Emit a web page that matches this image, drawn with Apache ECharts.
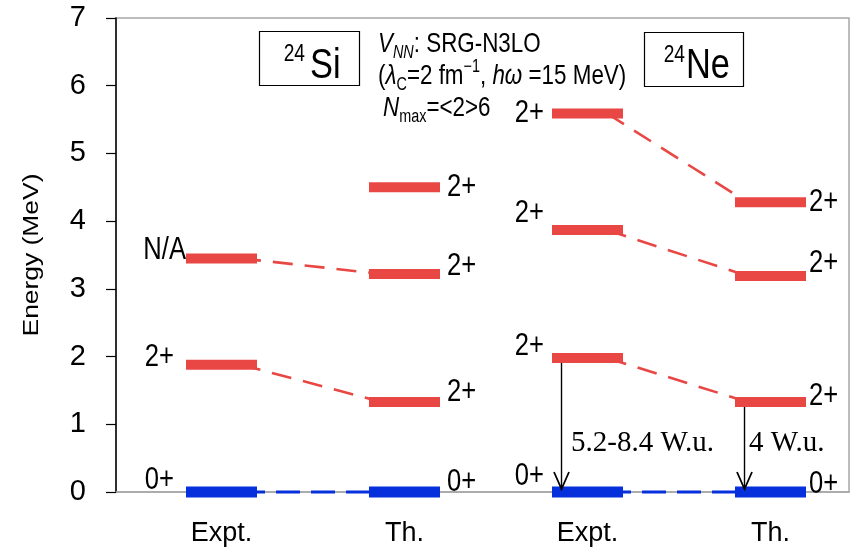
<!DOCTYPE html>
<html>
<head>
<meta charset="utf-8">
<script src="https://cdn.jsdelivr.net/npm/echarts@6/dist/echarts.min.js"></script>
<style>
html,body{margin:0;padding:0;background:#fff;}
#chart{width:853px;height:555px;}
</style>
</head>
<body>
<div id="chart"></div>
<script>
// ---------------- data ----------------
const categories = ['Expt.', 'Th.', 'Expt.', 'Th.'];
const yTicks = [0, 1, 2, 3, 4, 5, 6, 7];
// level energies (MeV) per column
const siExpt = [0, 1.88, 3.45];
const siTh   = [0, 1.33, 3.22, 4.50];
const neExpt = [0, 1.98, 3.87, 5.59];
const neTh   = [0, 1.33, 3.19, 4.28];
// level labels
const siExptLabels = ['0+', '2+', 'N/A'];
const siThLabels   = ['0+', '2+', '2+', '2+'];
const neExptLabels = ['0+', '2+', '2+', '2+'];
const neThLabels   = ['0+', '2+', '2+', '2+'];
// connected levels (Expt index -> Th index)
const siLinks = [[0, 0], [1, 1], [2, 2]];
const neLinks = [[0, 0], [1, 1], [2, 2], [3, 3]];
// B(E2) transitions
const be2Cols = [3, 4];
const be2From = [neExpt[1], neTh[1]];
const be2Labels = ['5.2-8.4 W.u.', '4 W.u.'];
const nucleusMass = ['24', '24'];
const nucleusName = ['Si', 'Ne'];

// ---------------- layout / style ----------------
const RED = '#e84744';
const BLUE = '#0530dc';
const SANS = "'Liberation Sans', Arial, sans-serif";
const SERIF = "'Liberation Serif', 'Times New Roman', serif";
const SQ = 0.8;            // horizontal squeeze of the original figure's text
const HW = 0.194;          // half width of level bar (x units)
const ARROW_DX = -0.142;   // arrow offset from column centre
const labelLayout = {
  // [gap px, dy px] per level
  1: [[12, -12], [12, -8], [0, -8]],
  2: [[7, -10], [7, -10], [7, -8], [7, 0]],
  3: [[8, -16], [8, -12], [8, -17], [8, 0]],
  4: [[3, -8], [3, -6], [3, -13], [3, 0]]
};

const columns = [
  {x: 1, E: siExpt, L: siExptLabels, side: -1},
  {x: 2, E: siTh, L: siThLabels, side: 1},
  {x: 3, E: neExpt, L: neExptLabels, side: -1},
  {x: 4, E: neTh, L: neThLabels, side: 1}
];

const levelItems = [];
columns.forEach(c => {
  c.E.forEach((e, i) => {
    const lay = labelLayout[c.x][i];
    levelItems.push({value: [c.x, e], lab: c.L[i], side: c.side, gap: lay[0], dy: lay[1]});
  });
});

const linkItems = [];
siLinks.forEach(([a, b]) => linkItems.push([1, siExpt[a], 2, siTh[b]]));
neLinks.forEach(([a, b]) => linkItems.push([3, neExpt[a], 4, neTh[b]]));

const arrowItems = be2Cols.map((c, i) => [c + ARROW_DX, be2From[i]]);

const chart = echarts.init(document.getElementById('chart'), null, {renderer: 'canvas'});

function richBlock(text, x, y) {
  return {type: 'text', x: x, y: y, z: 11, scaleX: SQ, style: {
    text: text, align: 'left', verticalAlign: 'middle',
    rich: {
      i: {font: 'italic 28px ' + SANS, fill: '#000', lineHeight: 36, verticalAlign: 'middle'},
      n: {font: '28px ' + SANS, fill: '#000', lineHeight: 36, verticalAlign: 'middle'},
      isub: {font: 'italic 18px ' + SANS, fill: '#000', verticalAlign: 'bottom'},
      sub: {font: '18px ' + SANS, fill: '#000', verticalAlign: 'bottom'},
      sup: {font: '18px ' + SANS, fill: '#000', verticalAlign: 'top'}
    }}};
}

const option = {
  animation: false,
  backgroundColor: '#fff',
  grid: {left: 116, right: 4, top: 18, bottom: 63, show: true, borderColor: '#a6a6a6', borderWidth: 1.5},
  xAxis: {
    type: 'value', min: 0.4235, max: 4.429,
    axisLine: {show: true, onZero: false, lineStyle: {color: '#a6a6a6', width: 1.5}},
    axisTick: {show: false},
    splitLine: {show: false},
    axisLabel: {
      customValues: [1, 2, 3, 4],
      formatter: v => categories[Math.round(v) - 1],
      fontFamily: SANS, fontSize: 27, color: '#000', margin: 28
    }
  },
  yAxis: {
    type: 'value', min: 0, max: 7, interval: 1,
    axisLine: {show: true, lineStyle: {color: '#000', width: 1.5}},
    axisTick: {show: true, inside: false, length: 10, lineStyle: {color: '#000', width: 1.2}},
    splitLine: {show: false},
    axisLabel: {fontFamily: SANS, fontSize: 29, color: '#000', margin: 30,
      formatter: v => String(yTicks[v])}
  },
  series: [
    {
      type: 'custom', name: 'links', z: 2, silent: true,
      data: linkItems,
      renderItem(params, api) {
        const x1 = api.value(0), e1 = api.value(1), x2 = api.value(2), e2 = api.value(3);
        const p1 = api.coord([x1 + HW * 0.55, e1]);
        const p2 = api.coord([x2 - HW * 0.65, e2]);
        const ground = e1 === 0 && e2 === 0;
        return {
          type: 'line',
          shape: {x1: p1[0], y1: p1[1], x2: p2[0], y2: p2[1]},
          style: {stroke: ground ? BLUE : RED, lineWidth: ground ? 3 : 2.6,
            lineDash: ground ? [24, 11] : [20, 12]}
        };
      }
    },
    {
      type: 'custom', name: 'levels', z: 3, silent: true,
      data: levelItems,
      renderItem(params, api) {
        const it = levelItems[params.dataIndex];
        const x = api.value(0), e = api.value(1);
        const a = api.coord([x - HW, e]);
        const b = api.coord([x + HW, e]);
        const ground = e === 0;
        const h = ground ? 11 : 10;
        return {
          type: 'group',
          children: [
            {type: 'rect', shape: {x: a[0], y: a[1] - h / 2, width: b[0] - a[0], height: h},
              style: {fill: ground ? BLUE : RED}},
            {type: 'text', x: it.side < 0 ? a[0] - it.gap : b[0] + it.gap, y: a[1] + it.dy, scaleX: SQ,
              style: {text: it.lab, align: it.side < 0 ? 'right' : 'left', verticalAlign: 'middle',
                font: '32px ' + SANS, fill: '#000'}}
          ]
        };
      }
    },
    {
      type: 'custom', name: 'arrows', z: 4, silent: true,
      data: arrowItems,
      renderItem(params, api) {
        const x = api.value(0), e = api.value(1);
        const s = api.coord([x, e]);
        const t = api.coord([x, 0]);
        const sy = s[1] + 5, ty = t[1] - 3;
        return {
          type: 'group',
          children: [
            {type: 'line', shape: {x1: s[0], y1: sy, x2: t[0], y2: ty},
              style: {stroke: '#000', lineWidth: 1.4}},
            {type: 'polyline', shape: {points: [[t[0] - 7.5, ty - 17], [t[0], ty], [t[0] + 7.5, ty - 17]]},
              style: {stroke: '#000', lineWidth: 1.8, fill: null}}
          ]
        };
      }
    }
  ],
  graphic: [
    // y axis title (stretched along its length)
    {type: 'text', x: 32, y: 255, rotation: Math.PI / 2, scaleX: 1.2,
      style: {text: 'Energy (MeV)', font: '22px ' + SANS, fill: '#000', align: 'center', verticalAlign: 'middle'}},
    // 24Si box
    {type: 'rect', shape: {x: 259.5, y: 31.5, width: 100, height: 54}, style: {fill: '#fff', stroke: '#000', lineWidth: 1.2}, z: 10},
    {type: 'text', x: 305, y: 54, z: 11, scaleX: SQ, style: {text: nucleusMass[0], font: '24px ' + SANS, fill: '#000', align: 'right', verticalAlign: 'middle'}},
    {type: 'text', x: 310, y: 66, z: 11, scaleX: SQ, style: {text: nucleusName[0], font: '43px ' + SANS, fill: '#000', align: 'left', verticalAlign: 'middle'}},
    // 24Ne box
    {type: 'rect', shape: {x: 644.5, y: 32.5, width: 99, height: 54}, style: {fill: '#fff', stroke: '#000', lineWidth: 1.2}, z: 10},
    {type: 'text', x: 685, y: 55, z: 11, scaleX: SQ, style: {text: nucleusMass[1], font: '24px ' + SANS, fill: '#000', align: 'right', verticalAlign: 'middle'}},
    {type: 'text', x: 686, y: 66, z: 11, scaleX: SQ, style: {text: nucleusName[1], font: '43px ' + SANS, fill: '#000', align: 'left', verticalAlign: 'middle'}},
    // interaction text block
    richBlock('{i|V}{isub|NN}{n|: SRG-N3LO}', 378, 44),
    richBlock('{n|(}{i|λ}{sub|C}{n|=2 fm}{sup|−1}{n|, }{i|hω}{n| =15 MeV)}', 378, 76),
    richBlock('{i|N}{sub|max}{n|=<2>6}', 383, 108),
    // B(E2) labels
    {type: 'text', x: 571, y: 443, z: 11, style: {text: be2Labels[0], font: '29px ' + SERIF, fill: '#000', align: 'left', verticalAlign: 'middle'}},
    {type: 'text', x: 749, y: 443, z: 11, style: {text: be2Labels[1], font: '29px ' + SERIF, fill: '#000', align: 'left', verticalAlign: 'middle'}}
  ]
};
chart.setOption(option);
</script>
</body>
</html>
